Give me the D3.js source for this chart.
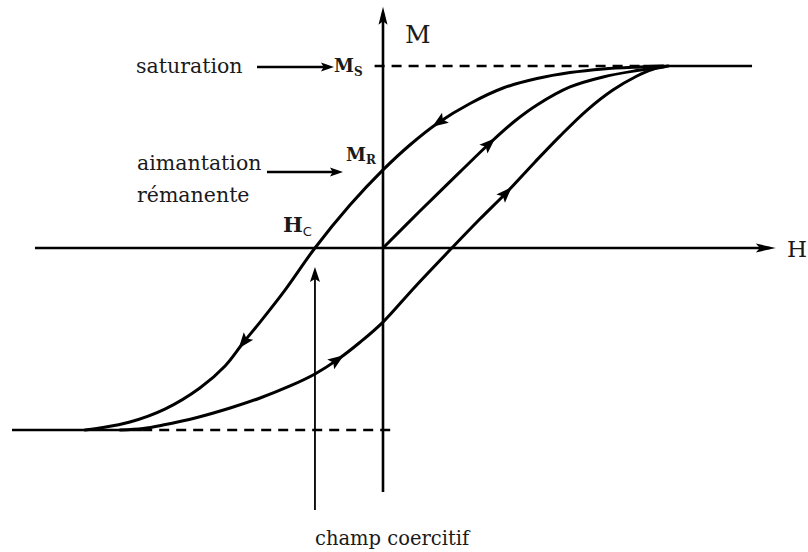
<!DOCTYPE html>
<html>
<head>
<meta charset="utf-8">
<script src="https://cdn.jsdelivr.net/npm/d3@7/dist/d3.min.js"></script>
<style>
  html, body { margin: 0; padding: 0; background: #fff; }
  svg { display: block; }
  text { font-family: "DejaVu Serif", "Liberation Serif", serif; fill: #1a1a1a; }
</style>
</head>
<body>
<svg id="chart" width="808" height="552"></svg>
<script>
// Hysteresis loop, normalised units: H / H_sat and M / M_s

// Descending branch (from +saturation down to -saturation)
const descH = [1.000, 0.918, 0.786, 0.668, 0.550, 0.429, 0.311, 0.196, 0.096, 0.000, -0.118, -0.243, -0.350, -0.439, -0.500, -0.564, -0.654, -0.779, -0.904, -1.011, -1.064];
const descM = [1.000, 0.995, 0.984, 0.964, 0.931, 0.879, 0.794, 0.687, 0.566, 0.429, 0.236, 0.000, -0.231, -0.407, -0.522, -0.648, -0.769, -0.885, -0.956, -0.989, -1.000];

// Ascending branch (from -saturation up to +saturation)
const ascH = [-0.939, -0.857, -0.786, -0.664, -0.546, -0.439, -0.332, -0.243, -0.161, -0.082, 0.000, 0.114, 0.246, 0.346, 0.443, 0.543, 0.632, 0.729, 0.821, 0.907, 0.961, 1.018];
const ascM = [-1.000, -0.992, -0.973, -0.931, -0.879, -0.824, -0.758, -0.692, -0.612, -0.518, -0.407, -0.214, 0.000, 0.159, 0.308, 0.473, 0.615, 0.758, 0.868, 0.945, 0.981, 1.000];

// First magnetisation curve, from the demagnetised state
const initH = [0.000, 0.132, 0.275, 0.382, 0.471, 0.550, 0.668, 0.786, 0.907, 1.007];
const initM = [0.000, 0.203, 0.418, 0.577, 0.698, 0.786, 0.885, 0.940, 0.975, 0.997];

// Characteristic values
const Ms = 1.0;          // saturation
const Mr = 0.429;        // remanent magnetisation
const Hc = -0.243;       // coercive field

// Where the direction arrows sit on each branch (H values)
const descArrowsH = [0.196, -0.50];
const ascArrowsH = [-0.161, 0.443];
const initArrowsH = [0.382];

const svg = d3.select("#chart");
const x = d3.scaleLinear().domain([-1, 1]).range([103, 663]);
const y = d3.scaleLinear().domain([-1, 1]).range([430, 66]);

const line = d3.line().x(d => x(d[0])).y(d => y(d[1])).curve(d3.curveCatmullRom.alpha(0.5));

function arrowHead(g, px, py, angle, len, half) {
  const pts = [[0, 0], [-len, -half], [-len * 0.8, 0], [-len, half]];
  g.append("path")
    .attr("d", "M" + pts.map(p => p.join(",")).join("L") + "Z")
    .attr("transform", `translate(${px},${py}) rotate(${angle * 180 / Math.PI})`)
    .attr("fill", "#000");
}

// ----- axes -----
const axes = svg.append("g").attr("stroke", "#000").attr("fill", "none");
// H axis
axes.append("line")
  .attr("x1", x(-1.243)).attr("x2", x(1.38))
  .attr("y1", y(0)).attr("y2", y(0))
  .attr("stroke-width", 2.6);
arrowHead(svg, x(1.403), y(0), 0, 20, 4.5);
// M axis
axes.append("line")
  .attr("x1", x(0)).attr("x2", x(0))
  .attr("y1", y(-1.34)).attr("y2", y(1.29))
  .attr("stroke-width", 2.6);
arrowHead(svg, x(0), y(1.325), -Math.PI / 2, 18, 4.5);

// ----- saturation levels -----
const sat = svg.append("g").attr("stroke", "#000").attr("stroke-width", 2.6);
sat.append("line").attr("x1", x(-0.03)).attr("x2", x(0.93))
  .attr("y1", y(Ms)).attr("y2", y(Ms)).attr("stroke-dasharray", "10 7");
sat.append("line").attr("x1", x(0.93)).attr("x2", x(1.318))
  .attr("y1", y(Ms)).attr("y2", y(Ms));
sat.append("line").attr("x1", x(-1.325)).attr("x2", x(-0.86))
  .attr("y1", y(-Ms)).attr("y2", y(-Ms));
sat.append("line").attr("x1", x(-0.86)).attr("x2", x(0.035))
  .attr("y1", y(-Ms)).attr("y2", y(-Ms)).attr("stroke-dasharray", "10 7");

// ----- branches -----
const branches = [
  { H: descH, M: descM, arrows: descArrowsH },
  { H: ascH, M: ascM, arrows: ascArrowsH },
  { H: initH, M: initM, arrows: initArrowsH }
];
branches.forEach(b => {
  const pts = b.H.map((h, i) => [h, b.M[i]]);
  const path = svg.append("path")
    .attr("d", line(pts))
    .attr("fill", "none")
    .attr("stroke", "#000")
    .attr("stroke-width", 3)
    .attr("stroke-linecap", "round");
  const node = path.node();
  const total = node.getTotalLength();
  b.arrows.forEach(h => {
    const tx = x(h);
    let best = 0, bestD = Infinity;
    for (let l = 0; l <= total; l += 0.5) {
      const p = node.getPointAtLength(l);
      const d = Math.abs(p.x - tx);
      if (d < bestD) { bestD = d; best = l; }
    }
    const p0 = node.getPointAtLength(Math.max(0, best - 4));
    const p1 = node.getPointAtLength(Math.min(total, best + 4));
    const ang = Math.atan2(p1.y - p0.y, p1.x - p0.x);
    const pc = node.getPointAtLength(best);
    arrowHead(svg, pc.x + Math.cos(ang) * 7, pc.y + Math.sin(ang) * 7, ang, 16, 6);
  });
});

// ----- coercive field pointer -----
svg.append("line")
  .attr("x1", x(Hc)).attr("x2", x(Hc))
  .attr("y1", y(-1.44)).attr("y2", y(-0.16))
  .attr("stroke", "#000").attr("stroke-width", 1.8);
arrowHead(svg, x(Hc), y(-0.104), -Math.PI / 2, 15, 5);

// ----- label pointers -----
svg.append("line").attr("x1", 257).attr("x2", 326).attr("y1", y(Ms) + 1).attr("y2", y(Ms) + 1)
  .attr("stroke", "#000").attr("stroke-width", 2.4);
arrowHead(svg, 334, y(Ms) + 1, 0, 13, 4.5);
svg.append("line").attr("x1", 267).attr("x2", 334).attr("y1", 172).attr("y2", 172)
  .attr("stroke", "#000").attr("stroke-width", 2.4);
arrowHead(svg, 343, 172, 0, 13, 4.5);

// ----- text -----
svg.append("text").attr("x", 405).attr("y", 43).attr("font-size", 25).text("M");
svg.append("text").attr("x", 787).attr("y", 257).attr("font-size", 23).text("H");

svg.append("text").attr("x", 136).attr("y", 73).attr("font-size", 20.5).text("saturation");
svg.append("text").attr("x", 137).attr("y", 170).attr("font-size", 20.5).text("aimantation");
svg.append("text").attr("x", 137).attr("y", 202).attr("font-size", 20.5).text("rémanente");
svg.append("text").attr("x", 315).attr("y", 545).attr("font-size", 19.5).text("champ coercitif");

const ms = svg.append("text").attr("x", 334).attr("y", 72).attr("font-size", 18).attr("font-weight", "bold");
ms.append("tspan").text("M");
ms.append("tspan").attr("font-size", 12).attr("dy", 4).text("S");

const mr = svg.append("text").attr("x", 346).attr("y", 161).attr("font-size", 18).attr("font-weight", "bold");
mr.append("tspan").text("M");
mr.append("tspan").attr("font-size", 12).attr("dy", 3).text("R");

const hc = svg.append("text").attr("x", 283).attr("y", 232).attr("font-size", 21).attr("font-weight", "bold");
hc.append("tspan").text("H");
hc.append("tspan").attr("font-size", 13).attr("font-weight", "normal")
  .attr("font-family", "'DejaVu Sans', sans-serif").attr("dy", 4).text("C");
</script>
</body>
</html>
